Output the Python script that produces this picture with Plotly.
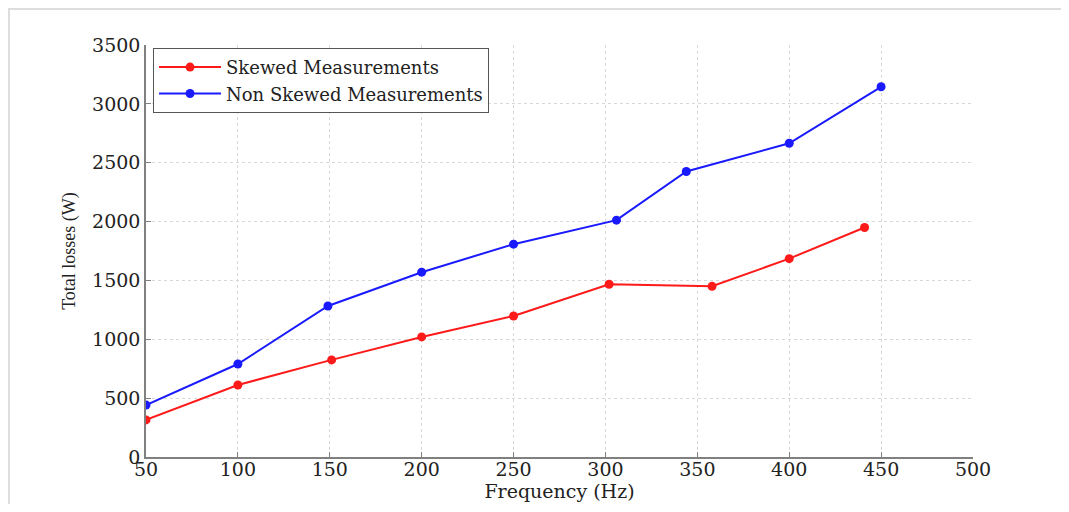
import plotly.graph_objects as go

# Data
skewed_freq = [50, 100, 151, 200, 250, 302, 358, 400, 441]
skewed_loss = [315, 612, 825, 1020, 1198, 1468, 1450, 1685, 1950]

nonskewed_freq = [50, 100, 149, 200, 250, 306, 344, 400, 450]
nonskewed_loss = [442, 790, 1283, 1570, 1808, 2012, 2425, 2665, 3145]

x_ticks = [50, 100, 150, 200, 250, 300, 350, 400, 450, 500]
y_ticks = [0, 500, 1000, 1500, 2000, 2500, 3000, 3500]

SERIF = "DejaVu Serif, serif"
TIMES = "Liberation Serif, Times New Roman, serif"

fig = go.Figure()
fig.add_trace(go.Scatter(
    x=skewed_freq, y=skewed_loss, mode="lines+markers",
    name="Skewed Measurements",
    line=dict(color="#ff1a1a", width=2),
    marker=dict(color="#ff1a1a", size=9, symbol="circle"),
))
fig.add_trace(go.Scatter(
    x=nonskewed_freq, y=nonskewed_loss, mode="lines+markers",
    name="Non Skewed Measurements",
    line=dict(color="#1a1aff", width=2),
    marker=dict(color="#1a1aff", size=9, symbol="circle"),
))

axis_common = dict(
    showgrid=True, gridcolor="#d8d8d8", griddash="dot", gridwidth=1,
    showline=True, linecolor="#808080", linewidth=1.5,
    ticks="inside", ticklen=5, tickcolor="#808080",
    zeroline=False, automargin=False,
    tickfont=dict(family=SERIF, size=19, color="#222222"),
)

fig.update_xaxes(
    range=[50, 500], tickvals=x_ticks, ticktext=[str(v) for v in x_ticks],
    ticklabelstandoff=-6,
    title=dict(text="Frequency (Hz)", font=dict(family=SERIF, size=19, color="#222222"), standoff=0),
    **axis_common,
)
fig.update_yaxes(
    range=[0, 3500], tickvals=y_ticks, ticktext=[str(v) for v in y_ticks],
    title=dict(text="Total losses (W)", font=dict(family=TIMES, size=18, color="#222222"), standoff=12),
    **axis_common,
)

fig.update_layout(
    width=1053, height=496,
    margin=dict(l=138, r=88, t=37, b=46.5),
    paper_bgcolor="white", plot_bgcolor="white",
    showlegend=True,
    legend=dict(
        x=0.0085, y=0.993, xanchor="left", yanchor="top",
        bgcolor="white", bordercolor="#555555", borderwidth=1,
        font=dict(family=SERIF, size=18, color="#222222"),
        tracegroupgap=0, itemwidth=62,
    ),
    shapes=[
        dict(type="line", xref="paper", yref="paper", x0=-0.2, x1=1.2, y0=1.0873, y1=1.0873,
             line=dict(color="#dddddd", width=2)),
        dict(type="line", xref="paper", yref="paper", x0=-0.1657, x1=-0.1657, y0=-0.2, y1=1.2,
             line=dict(color="#dddddd", width=2)),
    ],
)

fig.write_html("out.html")
